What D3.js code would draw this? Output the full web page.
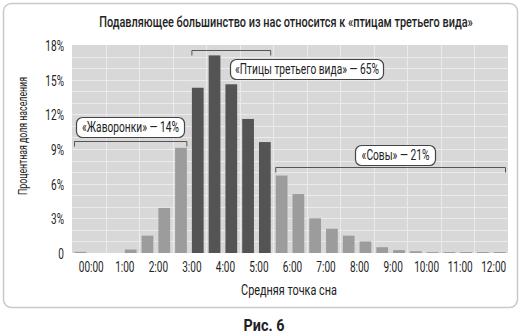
<!DOCTYPE html>
<html>
<head>
<meta charset="utf-8">
<script src="https://cdn.jsdelivr.net/npm/d3@7"></script>
<style>
  html, body { margin: 0; padding: 0; background: #fff; }
  svg text { font-family: "Roboto", "Noto Sans", sans-serif; fill: #222; }
</style>
</head>
<body>
<svg id="chart" width="527" height="336"></svg>
<script>
// Half-hour bins of the mid-sleep point (start hour of each bin)
const binStarts = d3.range(-0.5, 12.5, 0.5);
// Share of population in each bin, %
const shares = [0.1, 0, 0, 0.3, 1.5, 3.9, 9.1, 14.3, 17.1, 14.6, 11.6, 9.6,
                6.7, 5.1, 3.0, 2.1, 1.5, 1.0, 0.5, 0.25, 0.15, 0.08, 0.08, 0.08, 0.08, 0.08];
// Hour labels on the x axis
const hourTicks = [0, 1, 2, 3, 4, 5, 6, 7, 8, 9, 10, 11, 12];
const hourLabels = ["00:00", "1:00", "2:00", "3:00", "4:00", "5:00", "6:00",
                    "7:00", "8:00", "9:00", "10:00", "11:00", "12:00"];
// Percent ticks on the y axis
const yTicks = [0, 3, 6, 9, 12, 15, 18];
const yTickLabels = ["0", "3%", "6%", "9%", "12%", "15%", "18%"];
// Chronotype groups: first and last bin of each
const groupNames = ["«Жаворонки» — 14%", "«Птицы третьего вида» — 65%", "«Совы» — 21%"];
const groupFirst = [0, 7, 12];
const groupLast = [6, 11, 25];
const groupDark = [false, true, false];

const titleText = "Подавляющее большинство из нас относится к «птицам третьего вида»";
const xTitleText = "Средняя точка сна";
const yTitleText = "Процентная доля населения";

const svg = d3.select("#chart");
const M = { left: 72, right: 508, top: 45, bottom: 253 };

// width of a string in the current font, used to squeeze text into a narrow look
function measure(str, size, weight) {
  const t = svg.append("text").attr("font-size", size).attr("font-weight", weight || "normal").text(str);
  const w = t.node().getComputedTextLength();
  t.remove();
  return w;
}
function condense(sel, k) {
  sel.each(function () {
    const s = d3.select(this);
    const x = +s.attr("x") || 0, y = +s.attr("y") || 0;
    const t = s.attr("transform") || "";
    s.attr("transform", `${t} translate(${x},${y}) scale(${k},1) translate(${-x},${-y})`);
  });
}
const kTitle = 374 / measure(titleText, 14.5, 500);
const kTick = 25 / measure("00:00", 14.5);
const kBox = 144 / measure(groupNames[1], 14);
const kXTitle = 96 / measure(xTitleText, 14);
const kYTitle = 118 / measure(yTitleText, 12.5);

// outer frame
svg.append("rect")
  .attr("x", 3.5).attr("y", 3.5).attr("width", 514).attr("height", 304)
  .attr("rx", 8).attr("fill", "#fff").attr("stroke", "#c9c9c9").attr("stroke-width", 1.5);

const x = d3.scaleBand().domain(d3.range(binStarts.length))
  .range([M.left, M.right]).paddingInner(0.3).paddingOuter(0.15);
const xt = d3.scaleLinear().domain([binStarts[0], binStarts[binStarts.length - 1] + 0.5])
  .range([M.left, M.right]);
const y = d3.scaleLinear().domain([0, 18]).range([M.bottom, M.top]);

// plot background and grid
svg.append("rect").attr("x", M.left).attr("y", M.top)
  .attr("width", M.right - M.left).attr("height", M.bottom - M.top).attr("fill", "#d8d8d8");
const grid = svg.append("g").attr("stroke", "#ebebeb").attr("stroke-width", 1);
grid.selectAll("line.h").data(d3.range(1, 18)).join("line")
  .attr("x1", M.left).attr("x2", M.right)
  .attr("y1", d => Math.round(y(d)) + 0.5).attr("y2", d => Math.round(y(d)) + 0.5);
grid.selectAll("line.v").data(hourTicks.slice(0, -1).map(h => h + 0.5)).join("line")
  .attr("y1", M.top).attr("y2", M.bottom)
  .attr("x1", d => Math.round(xt(d)) + 0.5).attr("x2", d => Math.round(xt(d)) + 0.5);

// bars
const groupOf = i => groupFirst.findIndex((f, g) => i >= f && i <= groupLast[g]);
svg.append("g").selectAll("rect").data(shares).join("rect")
  .attr("x", (d, i) => x(i)).attr("width", x.bandwidth())
  .attr("y", d => y(d)).attr("height", d => y(0) - y(d))
  .attr("fill", (d, i) => groupDark[groupOf(i)] ? "#545454" : "#9c9c9c");

// y axis labels
const yAxis = svg.append("g").attr("transform", `translate(${M.left - 8},1)`)
  .call(d3.axisLeft(y).tickValues(yTicks).tickSize(0).tickPadding(0)
    .tickFormat((d, i) => yTickLabels[i]));
yAxis.select(".domain").remove();
yAxis.selectAll("text").attr("font-size", 14.5).attr("fill", "#222")
  .style("font-family", null).call(condense, kTick);

// x axis labels
const xAxis = svg.append("g").attr("transform", `translate(2,${M.bottom + 9})`)
  .call(d3.axisBottom(xt).tickValues(hourTicks).tickSize(0).tickPadding(0)
    .tickFormat((d, i) => hourLabels[i]));
xAxis.select(".domain").remove();
xAxis.selectAll("text").attr("font-size", 14.5).attr("fill", "#222")
  .style("font-family", null).call(condense, kTick);

// titles
svg.append("text").attr("x", 286).attr("y", 27).attr("text-anchor", "middle")
  .attr("font-size", 14.5).attr("font-weight", 500).text(titleText).call(condense, kTitle);
svg.append("text").attr("x", 289).attr("y", 295).attr("text-anchor", "middle")
  .attr("font-size", 14).text(xTitleText).call(condense, kXTitle);
svg.append("text").attr("transform", "translate(27,136) rotate(-90)").attr("text-anchor", "middle")
  .attr("font-size", 12.5).text(yTitleText).call(condense, kYTitle);
svg.append("text").attr("x", 264).attr("y", 331).attr("text-anchor", "middle")
  .attr("font-size", 16).attr("font-weight", "bold").text("Рис. 6")
  .call(condense, 0.9);

// group brackets and callouts
const bracketY = [141.5, 50.5, 167.5];
const boxPos = [[76, 117, 108], [230, 59, 153], [355, 145, 80]];
groupNames.forEach((name, g) => {
  const x0 = x(groupFirst[g]), x1 = x(groupLast[g]) + x.bandwidth();
  const by = bracketY[g];
  svg.append("path")
    .attr("d", `M${x0},${by + 5}V${by}H${x1}V${by + 5}`)
    .attr("fill", "none").attr("stroke", "#555").attr("stroke-width", 1);
  const [bx, bt, bw] = boxPos[g];
  svg.append("rect").attr("x", bx + 0.5).attr("y", bt + 0.5).attr("width", bw).attr("height", 20)
    .attr("rx", 6).attr("fill", "#fff").attr("stroke", "#444").attr("stroke-width", 1.2);
  svg.append("text").attr("x", bx + bw / 2 + 0.5).attr("y", bt + 15.5)
    .attr("text-anchor", "middle").attr("font-size", 14).text(name).call(condense, kBox);
});
</script>
</body>
</html>
